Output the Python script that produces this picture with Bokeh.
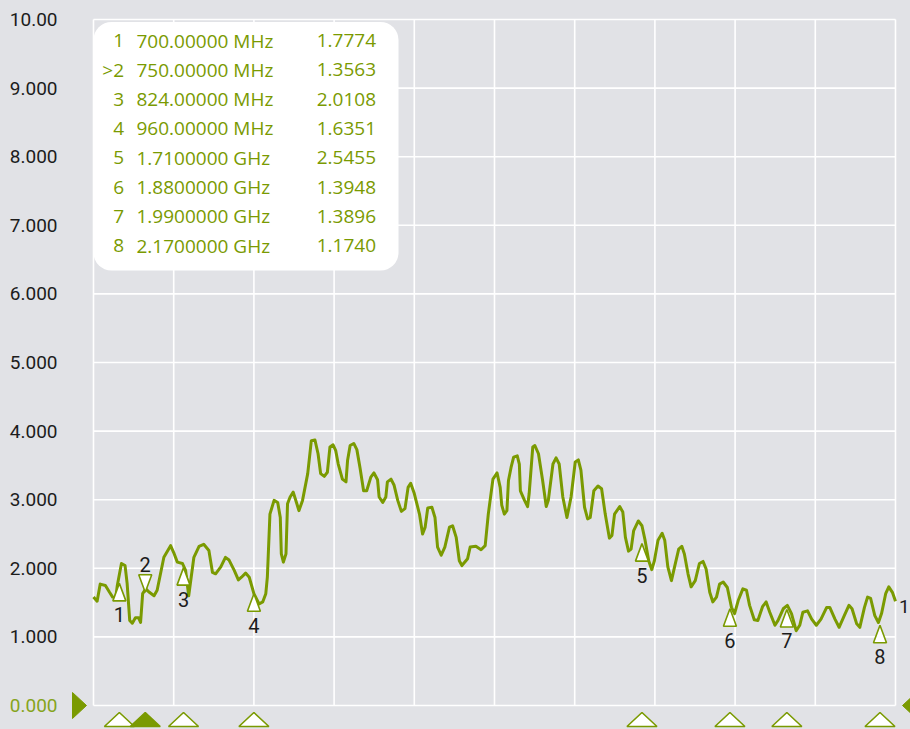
from bokeh.plotting import figure
from bokeh.models import Range1d, BoxAnnotation, GlobalInlineStyleSheet
from bokeh.core.properties import value
from bokeh.embed import file_html
from bokeh.resources import INLINE

# ---------------- data ----------------
freq_mhz = [
    650, 657, 663, 673, 681, 687, 693, 696, 704, 711,
    715, 720, 725, 731, 737, 741, 745, 751, 758, 767,
    773, 786, 799, 805, 812, 822, 828, 834, 844, 854,
    863, 873, 880, 886, 896, 905, 912, 922, 930, 936,
    944, 951, 960, 970, 977, 983, 986, 991, 999, 1006,
    1011, 1013, 1017, 1022, 1025, 1030, 1036, 1043, 1047, 1054,
    1064, 1071, 1078, 1084, 1089, 1096, 1102, 1107, 1113, 1118,
    1123, 1131, 1138, 1141, 1146, 1153, 1159, 1165, 1172, 1178,
    1186, 1192, 1199, 1202, 1209, 1215, 1218, 1225, 1231, 1238,
    1245, 1252, 1258, 1263, 1270, 1280, 1286, 1291, 1296, 1304,
    1310, 1315, 1322, 1329, 1338, 1344, 1351, 1357, 1362, 1373,
    1378, 1389, 1399, 1407, 1413, 1422, 1430, 1436, 1439, 1444,
    1449, 1452, 1457, 1462, 1469, 1473, 1475, 1483, 1489, 1492,
    1499, 1503, 1510, 1518, 1525, 1529, 1538, 1544, 1550, 1557,
    1565, 1573, 1581, 1587, 1592, 1599, 1605, 1610, 1617, 1625,
    1632, 1639, 1647, 1652, 1657, 1667, 1673, 1678, 1684, 1689,
    1694, 1703, 1710, 1716, 1723, 1729, 1734, 1741, 1749, 1754,
    1760, 1767, 1773, 1781, 1787, 1792, 1799, 1805, 1813, 1821,
    1828, 1834, 1841, 1847, 1854, 1860, 1867, 1875, 1883, 1889,
    1896, 1905, 1912, 1918, 1927, 1934, 1943, 1950, 1957, 1967,
    1973, 1983, 1991, 1999, 2008, 2015, 2021, 2030, 2038, 2047,
    2056, 2067, 2073, 2083, 2091, 2101, 2110, 2116, 2125, 2131,
    2140, 2146, 2152, 2160, 2167, 2173, 2181, 2187, 2194, 2200,
]
vswr = [
    1.58, 1.52, 1.77, 1.75, 1.65, 1.58, 1.57, 1.75, 2.07, 2.04,
    1.78, 1.24, 1.20, 1.28, 1.28, 1.21, 1.63, 1.70, 1.65, 1.60,
    1.68, 2.16, 2.33, 2.23, 2.09, 2.07, 1.97, 1.60, 2.16, 2.32,
    2.35, 2.26, 1.94, 1.92, 2.02, 2.16, 2.12, 1.97, 1.83, 1.87,
    1.93, 1.87, 1.63, 1.48, 1.51, 1.63, 1.87, 2.79, 2.99, 2.96,
    2.74, 2.21, 2.09, 2.21, 2.94, 3.04, 3.11, 2.94, 2.84, 2.99,
    3.38, 3.86, 3.87, 3.67, 3.38, 3.34, 3.40, 3.77, 3.80, 3.72,
    3.52, 3.30, 3.26, 3.57, 3.79, 3.82, 3.73, 3.47, 3.13, 3.13,
    3.33, 3.39, 3.29, 3.04, 2.96, 3.04, 3.26, 3.30, 3.21, 2.99,
    2.83, 2.87, 3.18, 3.24, 3.09, 2.79, 2.50, 2.60, 2.88, 2.89,
    2.74, 2.31, 2.19, 2.31, 2.60, 2.62, 2.45, 2.11, 2.04, 2.14,
    2.31, 2.32, 2.27, 2.33, 2.79, 3.30, 3.39, 3.18, 2.92, 2.79,
    2.84, 3.28, 3.47, 3.62, 3.64, 3.52, 3.13, 2.99, 2.90, 3.09,
    3.77, 3.79, 3.67, 3.28, 2.90, 2.99, 3.52, 3.61, 3.52, 3.04,
    2.74, 3.04, 3.55, 3.58, 3.43, 2.89, 2.72, 2.74, 3.13, 3.20,
    3.16, 2.79, 2.44, 2.48, 2.79, 2.90, 2.82, 2.45, 2.25, 2.28,
    2.55, 2.69, 2.62, 2.41, 2.11, 1.98, 2.11, 2.41, 2.51, 2.41,
    2.02, 1.82, 2.02, 2.28, 2.32, 2.21, 1.92, 1.73, 1.82, 2.07,
    2.10, 1.99, 1.65, 1.51, 1.58, 1.77, 1.80, 1.72, 1.43, 1.34,
    1.53, 1.70, 1.68, 1.46, 1.25, 1.24, 1.44, 1.51, 1.36, 1.17,
    1.24, 1.41, 1.46, 1.34, 1.09, 1.17, 1.36, 1.38, 1.26, 1.17,
    1.26, 1.43, 1.43, 1.26, 1.14, 1.31, 1.46, 1.41, 1.19, 1.14,
    1.43, 1.58, 1.56, 1.31, 1.21, 1.34, 1.63, 1.73, 1.65, 1.52,
]

x_start, x_end, x_step = 650, 2200, 155
y_ticks = [0, 1, 2, 3, 4, 5, 6, 7, 8, 9, 10]
y_tick_labels = ["0.000", "1.000", "2.000", "3.000", "4.000", "5.000",
                 "6.000", "7.000", "8.000", "9.000", "10.00"]

marker_ids = ["1", ">2", "3", "4", "5", "6", "7", "8"]
marker_freq_text = ["700.00000 MHz", "750.00000 MHz", "824.00000 MHz", "960.00000 MHz",
                    "1.7100000 GHz", "1.8800000 GHz", "1.9900000 GHz", "2.1700000 GHz"]
marker_value_text = ["1.7774", "1.3563", "2.0108", "1.6351",
                     "2.5455", "1.3948", "1.3896", "1.1740"]
marker_freq = [700, 750, 824, 960, 1710, 1880, 1990, 2170]
marker_level = [1.78, 1.65, 2.01, 1.63, 2.36, 1.41, 1.40, 1.17]   # drawn height of each marker
marker_labels = ["1", "2", "3", "4", "5", "6", "7", "8"]
marker_up = [True, False, True, True, True, True, True, True]
active_marker = 1
trace_label = "1"

# ---------------- styling / layout ----------------
BG = "#e1e2e6"
GRID = "#ffffff"
GREEN = "#7a9a01"
GREEN_LIGHT = "#86a41c"
DARK = "#1c1c1c"

W, H = 910, 729
L, R, T, B = 93, 895, 19, 705          # frame of the VSWR grid, in canvas pixels
kx = (R - L) / (x_end - x_start)
ky = (B - T) / (y_ticks[-1] - y_ticks[0])


def sx(px):
    return x_start + (px - L) / kx


def sy(py):
    return (B - py) / ky


p = figure(width=W, height=H, output_backend="svg", toolbar_location=None,
           x_range=Range1d(sx(0), sx(W)), y_range=Range1d(sy(H), sy(0)),
           x_axis_location=None, y_axis_location=None, min_border=0,
           outline_line_color=None, background_fill_color=BG, border_fill_color=BG)
p.xgrid.visible = False
p.ygrid.visible = False
p.stylesheets = [GlobalInlineStyleSheet(css="body { background: %s; }" % BG)]

# grid (white) incl. frame border
vx = [x_start + i * x_step for i in range(int((x_end - x_start) / x_step) + 1)]
p.segment(x0=vx, y0=[y_ticks[0]] * len(vx), x1=vx, y1=[y_ticks[-1]] * len(vx),
          line_color=GRID, line_width=1.6, level="underlay")
p.segment(x0=[x_start] * len(y_ticks), y0=y_ticks, x1=[x_end] * len(y_ticks), y1=y_ticks,
          line_color=GRID, line_width=1.6, level="underlay")

# marker table box
box = BoxAnnotation(left=sx(93), right=sx(398), top=sy(21.5), bottom=sy(270),
                    fill_color="white", fill_alpha=1.0, line_color=None,
                    border_radius=18, level="glyph")
p.add_layout(box)

# y tick labels
p.text(x=[sx(57)] * len(y_ticks), y=y_ticks, text=y_tick_labels,
       text_color=[GREEN_LIGHT if t == 0 else DARK for t in y_ticks],
       text_font=value("Roboto"), text_font_size="19px",
       text_align="right", text_baseline="middle")

# reference-level arrows at 0
ah, aw = 13 / ky, 14 / kx
p.patch(x=[sx(72), sx(72), sx(72) + aw], y=[y_ticks[0] + ah, y_ticks[0] - ah, y_ticks[0]],
        fill_color=GREEN, line_color=GREEN, line_width=1)
p.patch(x=[sx(902) + aw, sx(902) + aw, sx(902)], y=[y_ticks[0] + ah, y_ticks[0] - ah, y_ticks[0]],
        fill_color=GREEN, line_color=GREEN, line_width=1)

# trace
p.line(freq_mhz, vswr, line_color=GREEN, line_width=3, line_join="round")

# markers on the trace
tw, th = 6.5 / kx, 17.5 / ky
xs, ys, lx, ly = [], [], [], []
for f, lv, up in zip(marker_freq, marker_level, marker_up):
    xs.append([f, f - tw, f + tw])
    if up:
        ys.append([lv, lv - th, lv - th])
        ly.append(lv - 31.5 / ky)
    else:
        ys.append([lv, lv + th, lv + th])
        ly.append(lv + 28 / ky)
    lx.append(f)
p.patches(xs, ys, fill_color="white", line_color=GREEN, line_width=1.6)
p.text(x=lx, y=ly, text=marker_labels, text_color=DARK, text_font=value("Roboto"),
       text_font_size="20px", text_align="center", text_baseline="middle")

# markers under the axis
bw, btop, bbot = 15 / kx, sy(712), sy(726)
bxs = [[f - bw, f, f + bw] for f in marker_freq]
bys = [[bbot, btop, bbot] for _ in marker_freq]
p.patches(bxs, bys, fill_color=[GREEN if i == active_marker else "white" for i in range(len(marker_freq))],
          line_color=GREEN, line_width=1.6)

# trace label at right end
p.text(x=[sx(898.5)], y=[sy(605.5)], text=[trace_label], text_color=DARK,
       text_font=value("Roboto"), text_font_size="19px", text_align="left", text_baseline="middle")

# marker table
row_y = [sy(40 + 29.3 * i) for i in range(len(marker_ids))]
tfont = dict(text_font=value("Open Sans"), text_font_size="19px", text_baseline="middle",
             text_color=GREEN, level="overlay")
p.text(x=[sx(123.5)] * len(row_y), y=row_y, text=marker_ids, text_align="right", **tfont)
p.text(x=[sx(136)] * len(row_y), y=row_y, text=marker_freq_text, text_align="left", **tfont)
p.text(x=[sx(375.5)] * len(row_y), y=row_y, text=marker_value_text, text_align="right", **tfont)

open("out.html", "w").write(file_html(p, INLINE))
